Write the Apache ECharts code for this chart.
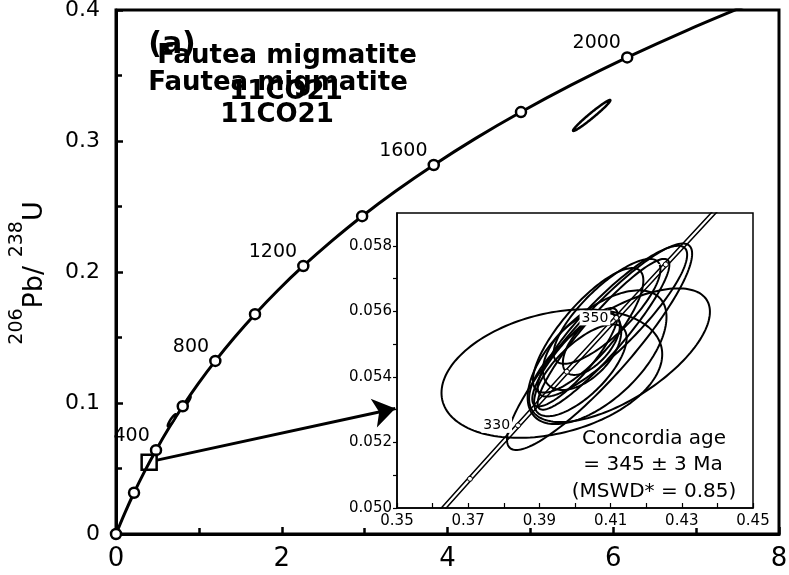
<!DOCTYPE html>
<html><head><meta charset="utf-8">
<script src="https://cdn.jsdelivr.net/npm/echarts@6/dist/echarts.min.js"></script>
<style>html,body{margin:0;padding:0;background:#fff;}#c{width:789px;height:575px;}</style>
</head><body><div id="c"></div>
<script>
// ---- main concordia curve (age Ma, 207Pb/235U, 206Pb/238U) ----
const curveAges = [0,100,200,300,400,500,600,700,800,900,1000,1100,1200,1300,1400,1500,1600,1700,1800,1900,2000,2100,2200];
const curveX = [0,0.1035,0.2177,0.3437,0.4828,0.6363,0.8056,0.9925,1.1987,1.4264,1.6774,1.9545,2.2603,2.5976,2.9700,3.3810,3.8342,4.3348,4.8866,5.4957,6.1682,6.9105,7.7287];
const curveY = [0,0.0156,0.0315,0.0476,0.0640,0.0807,0.0975,0.1147,0.1321,0.1498,0.1678,0.1861,0.2046,0.2234,0.2426,0.2620,0.2817,0.3018,0.3221,0.3428,0.3638,0.3851,0.4068];
const markerAges = [0,200,400,600,800,1000,1200,1400,1600,1800,2000];
const labelledAges = [400,800,1200,1600,2000];
const mainTicksX = [0,2,4,6,8];
const mainTicksY = [0,0.1,0.2,0.3,0.4];

// main-plot error ellipses: centre x, sigma x, centre y, sigma y, rho
const mainEllCX = [5.74, 0.675, 0.87];
const mainEllSX = [0.225, 0.05, 0.03];
const mainEllCY = [0.3195, 0.0868, 0.102];
const mainEllSY = [0.0118, 0.0046, 0.003];
const mainEllRho = [0.978, 0.9, 0.9];

// zoom box and arrow
const zoomBox = [0.40, 0.0548];
const arrowFrom = [0.495, 0.0564];
const arrowTo = [3.37, 0.0958];

// ---- inset ----
const insetLineY = [0.04926,0.05089,0.05252,0.05416,0.05580,0.05743,0.05908,0.06072];
const insetLineXa = [0.3563,0.3698,0.3833,0.3970,0.4109,0.4248,0.4389,0.4532];
const insetLineXb = [0.3577,0.3712,0.3847,0.3984,0.4123,0.4262,0.4403,0.4546];
const insetMarkAges = [320,330,340,350,360];
const insetMarkX = [0.3705,0.3840,0.3977,0.4116,0.4255];
const insetMarkY = [0.05089,0.05252,0.05416,0.05580,0.05743];
const insetLabelled = [330,350];

const ellCX  = [0.3935,0.4125,0.4069,0.4105,0.4062,0.4037,0.4046,0.4015,0.4090,0.4020,0.4080,0.4000];
const ellSX  = [0.0310,0.0254,0.0260,0.0210,0.0195,0.0155,0.0080,0.0130,0.0150,0.0110,0.0185,0.0120];
const ellCY  = [0.05410,0.05466,0.05492,0.05570,0.05460,0.05542,0.05500,0.05420,0.05600,0.05480,0.05530,0.05460];
const ellSY  = [0.00196,0.00204,0.00315,0.00230,0.00204,0.00190,0.00094,0.00140,0.00160,0.00120,0.00230,0.00150];
const ellRho = [0.30,0.65,0.90,0.88,0.60,0.80,0.60,0.70,0.80,0.50,0.92,0.85];

const FF = '"DejaVu Sans"';

function ellRender(lineWidth, fill) {
  return function (params, api) {
    const cx = api.value(0), sx = api.value(1), cy = api.value(2), sy = api.value(3), r = api.value(4);
    const q = Math.sqrt(1 - r * r);
    const pts = [];
    for (let i = 0; i < 160; i++) {
      const t = i / 160 * Math.PI * 2;
      pts.push(api.coord([cx + sx * Math.cos(t), cy + sy * (r * Math.cos(t) + q * Math.sin(t))]));
    }
    return {type: 'polygon', shape: {points: pts}, style: {fill: fill, stroke: '#000', lineWidth: lineWidth}};
  };
}

const chart = echarts.init(document.getElementById('c'), null, {renderer: 'canvas'});
const lblStyle = {color: '#000', fontFamily: FF};
const txt = (x, y, text, font) => ({type: 'text', x: x, y: y, z: 10,
  style: {text: text, font: font, fill: '#000', align: 'center', verticalAlign: 'middle', textAlign: 'center', textVerticalAlign: 'middle'}});

const option = {
  animation: false,
  backgroundColor: '#fff',
  grid: [
    {left: 116, top: 10, width: 663, height: 524, show: true, borderColor: '#000', borderWidth: 3, backgroundColor: '#fff', outerBoundsMode: 'none'},
    {left: 397, top: 213, width: 356, height: 295, show: true, borderColor: '#000', borderWidth: 1.5, backgroundColor: '#fff', outerBoundsMode: 'none'}
  ],
  xAxis: [
    {type: 'value', gridIndex: 0, min: mainTicksX[0], max: mainTicksX[mainTicksX.length - 1], interval: 2,
     axisLine: {show: true, onZero: false, lineStyle: {color: '#000', width: 3}},
     axisTick: {show: true, inside: true, length: 7, lineStyle: {color: '#000', width: 2.5}},
     minorTick: {show: true, splitNumber: 2, length: 6, lineStyle: {color: '#000', width: 2.5}},
     axisLabel: Object.assign({fontSize: 26, margin: 12}, lblStyle),
     splitLine: {show: false}, minorSplitLine: {show: false}},
    {type: 'value', gridIndex: 0, min: 0, max: 8, interval: 2,
     axisLine: {show: false}, axisTick: {show: true, inside: false, length: 5, lineStyle: {color: '#000', width: 2.5}},
     axisLabel: {show: false}, splitLine: {show: false}},
    {type: 'value', gridIndex: 1, min: 0.35, max: 0.45, interval: 0.01,
     axisLine: {show: true, onZero: false, lineStyle: {color: '#000', width: 1.5}},
     axisTick: {show: true, inside: true, length: 5, lineStyle: {color: '#000', width: 1.2}},
     axisLabel: Object.assign({fontSize: 15, margin: 6, showMinLabel: true, showMaxLabel: true,
       formatter: v => (Math.round(v * 100) % 2 === 1 ? v.toFixed(2) : '')}, lblStyle),
     splitLine: {show: false}}
  ],
  yAxis: [
    {type: 'value', gridIndex: 0, min: mainTicksY[0], max: mainTicksY[mainTicksY.length - 1], interval: 0.1,
     axisLine: {show: true, onZero: false, lineStyle: {color: '#000', width: 3}},
     axisTick: {show: true, inside: true, length: 7, lineStyle: {color: '#000', width: 2.5}},
     minorTick: {show: true, splitNumber: 2, length: 6, lineStyle: {color: '#000', width: 2.5}},
     axisLabel: Object.assign({fontSize: 22, margin: 16, formatter: v => (v === 0 ? '0' : v.toFixed(1))}, lblStyle),
     splitLine: {show: false}, minorSplitLine: {show: false}},
    {type: 'value', gridIndex: 0, min: 0, max: 0.4, interval: 0.1,
     axisLine: {show: false}, axisTick: {show: true, inside: false, length: 5, lineStyle: {color: '#000', width: 2.5}},
     axisLabel: {show: false}, splitLine: {show: false}},
    {type: 'value', gridIndex: 1, min: 0.050, max: 0.059, interval: 0.001,
     axisLine: {show: true, onZero: false, lineStyle: {color: '#000', width: 1.5}},
     axisTick: {show: true, inside: false, length: 4, lineStyle: {color: '#000', width: 1.2}},
     axisLabel: Object.assign({fontSize: 15, margin: 5, showMaxLabel: false,
       formatter: v => (Math.round(v * 1000) % 2 === 0 ? v.toFixed(3) : '')}, lblStyle),
     splitLine: {show: false}}
  ],
  series: [
    {type: 'line', xAxisIndex: 0, yAxisIndex: 0, smooth: 0.3, symbol: 'none', clip: true,
     data: curveX.map((x, i) => [x, curveY[i]]),
     lineStyle: {color: '#000', width: 3}, z: 2},
    {type: 'custom', xAxisIndex: 0, yAxisIndex: 0, renderItem: ellRender(2.5, '#fff'),
     data: mainEllCX.map((x, i) => [x, mainEllSX[i], mainEllCY[i], mainEllSY[i], mainEllRho[i]]), z: 3},
    {type: 'scatter', xAxisIndex: 0, yAxisIndex: 0, symbol: 'circle', symbolSize: 10,
     data: markerAges.map(a => { const i = curveAges.indexOf(a); return [curveX[i], curveY[i], a]; }),
     itemStyle: {color: '#fff', borderColor: '#000', borderWidth: 2.5, opacity: 1},
     label: {show: true, position: [0, -8], align: 'right', verticalAlign: 'middle', fontSize: 19, fontFamily: FF, color: '#000', opacity: 1,
       formatter: p => (labelledAges.indexOf(p.value[2]) >= 0 ? String(p.value[2]) : '')},
     emphasis: {disabled: true}, z: 4},
    {type: 'scatter', xAxisIndex: 0, yAxisIndex: 0, symbol: 'rect', symbolSize: 15, data: [zoomBox],
     itemStyle: {color: 'rgba(0,0,0,0)', borderColor: '#000', borderWidth: 2.5, opacity: 1}, emphasis: {disabled: true}, z: 5},
    {type: 'lines', coordinateSystem: 'cartesian2d', xAxisIndex: 0, yAxisIndex: 0,
     symbol: ['none', 'arrow'], symbolSize: 22,
     data: [{coords: [arrowFrom, arrowTo]}],
     lineStyle: {color: '#000', width: 3, opacity: 1}, itemStyle: {color: '#000'}, z: 5},
    // inset
    {type: 'custom', xAxisIndex: 2, yAxisIndex: 2, renderItem: ellRender(2, 'none'), clip: true,
     data: ellCX.map((x, i) => [x, ellSX[i], ellCY[i], ellSY[i], ellRho[i]]), z: 6},
    {type: 'line', xAxisIndex: 2, yAxisIndex: 2, symbol: 'none', clip: true,
     data: insetLineXa.map((x, i) => [x, insetLineY[i]]), lineStyle: {color: '#000', width: 1.5}, z: 6},
    {type: 'line', xAxisIndex: 2, yAxisIndex: 2, symbol: 'none', clip: true,
     data: insetLineXb.map((x, i) => [x, insetLineY[i]]), lineStyle: {color: '#000', width: 1.5}, z: 6},
    {type: 'scatter', xAxisIndex: 2, yAxisIndex: 2, symbol: 'circle', symbolSize: 5,
     data: insetMarkX.map((x, i) => [x, insetMarkY[i], insetMarkAges[i]]),
     itemStyle: {color: '#fff', borderColor: '#000', borderWidth: 1, opacity: 1},
     label: {show: true, position: 'left', distance: 3, fontSize: 14, fontFamily: FF, color: '#000',
       backgroundColor: '#fff', padding: [1, 2, 0, 2],
       formatter: p => (insetLabelled.indexOf(p.value[2]) >= 0 ? String(p.value[2]) : '')},
     emphasis: {disabled: true}, z: 8}
  ],
  graphic: [
    txt(172, 45, '(a)', 'bold 30px ' + FF),
    txt(287, 56, 'Fautea migmatite', 'bold 26px ' + FF),
    txt(286, 92, '11CO21', 'bold 26px ' + FF),
    txt(278, 83, 'Fautea migmatite', 'bold 26px ' + FF),
    txt(277, 115, '11CO21', 'bold 26px ' + FF),
    txt(654, 439, 'Concordia age', '20px ' + FF),
    txt(653, 465, '= 345 ± 3 Ma', '20px ' + FF),
    txt(654, 492, '(MSWD* = 0.85)', '20px ' + FF),
    {type: 'text', x: 28, y: 273, rotation: Math.PI / 2, z: 10,
     style: {text: '{s|206}{m|Pb/ }{s|238}{m|U}', fill: '#000', align: 'center', verticalAlign: 'middle', textAlign: 'center', textVerticalAlign: 'middle',
       rich: {s: {fontSize: 19, fontFamily: FF, verticalAlign: 'top', lineHeight: 14, fill: '#000'},
              m: {fontSize: 27, fontFamily: FF, verticalAlign: 'bottom', lineHeight: 40, fill: '#000'}}}}
  ]
};
chart.setOption(option);
</script></body></html>
